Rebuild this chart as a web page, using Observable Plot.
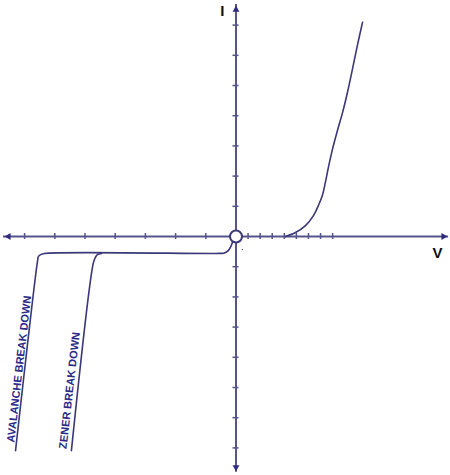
<!DOCTYPE html>
<html>
<head>
<meta charset="utf-8">
<script src="https://cdn.jsdelivr.net/npm/d3@7"></script>
<script src="https://cdn.jsdelivr.net/npm/@observablehq/plot@0.6"></script>
<style>
  html, body { margin: 0; padding: 0; background: #fff; }
  #chart svg { display: block; }
</style>
</head>
<body>
<div id="chart"></div>
<script>
// Axis tick values (data units)
const xTicksNeg = [-7, -6, -5, -4, -3, -2, -1];
const xTicksPos = [0.4, 0.8, 1.2, 1.6, 2.0, 2.4, 2.8, 3.2];
const yTicks = [-7, -6, -5, -4, -3, -2, -1, 1, 2, 3, 4, 5, 6, 7];

// Forward-bias characteristic (V, I)
const forwardV = [1.64, 1.97, 2.30, 2.57, 2.73, 2.86, 2.96, 3.06, 3.20, 3.36, 3.53, 3.69, 3.86, 4.02, 4.19];
const forwardI = [0.00, 0.13, 0.36, 0.70, 1.03, 1.36, 1.79, 2.29, 2.91, 3.51, 4.11, 4.77, 5.56, 6.33, 7.09];

// Reverse characteristic ending in avalanche breakdown
const avalancheV = [-0.12, -0.17, -0.25, -0.38, -0.51, -6.34, -6.47, -6.54, -6.57, -7.30];
const avalancheI = [-0.20, -0.33, -0.46, -0.55, -0.56, -0.56, -0.60, -0.66, -0.80, -7.09];

// Zener breakdown branch
const zenerV = [-4.45, -4.59, -4.65, -4.72, -5.45];
const zenerI = [-0.56, -0.60, -0.68, -0.86, -7.09];

// Text labels
const axisLabels = ["V", "I"];
const breakdownLabels = ["AVALANCHE BREAK DOWN", "ZENER BREAK DOWN"];

const toPts = (xs, ys) => xs.map((x, i) => ({x, y: ys[i]}));
const forward = toPts(forwardV, forwardI);
const avalanche = toPts(avalancheV, avalancheI);
const zener = toPts(zenerV, zenerI);

const axisColor = "#55548c";
const curveColor = "#3a3878";
const headColor = "#2e2b7e";
const textColor = "#2b2a86";

const xExt = [-7.70, 7.04];
const yExt = [-7.81, 7.68];

const chart = Plot.plot({
  width: 450,
  height: 475,
  margin: 0,
  x: {domain: [-7.798, 7.103], axis: null},
  y: {domain: [-7.914, 7.815], axis: null},
  style: {background: "#fff"},
  marks: [
    // axes
    Plot.ruleY([0], {x1: xExt[0], x2: xExt[1], stroke: axisColor, strokeWidth: 2}),
    Plot.ruleX([0], {y1: yExt[0], y2: yExt[1], stroke: axisColor, strokeWidth: 2}),
    // ticks
    Plot.ruleX(xTicksNeg.concat(xTicksPos), {x: d => d, y1: -0.1, y2: 0.1, stroke: axisColor, strokeWidth: 1.5}),
    Plot.ruleY(yTicks, {y: d => d, x1: -0.1, x2: 0.1, stroke: axisColor, strokeWidth: 1.5}),
    // arrowheads
    Plot.dot([
      {x: -7.53, y: 0, r: 270},
      {x: 6.87, y: 0, r: 90},
      {x: 0, y: 7.51, r: 0},
      {x: 0, y: -7.64, r: 180}
    ], {x: "x", y: "y", rotate: "r", symbol: "triangle2", r: 3.3, fill: headColor, stroke: "none"}),
    // curves
    Plot.line(avalanche, {x: "x", y: "y", curve: "catmull-rom", stroke: curveColor, strokeWidth: 1.6}),
    Plot.line(zener, {x: "x", y: "y", curve: "catmull-rom", stroke: curveColor, strokeWidth: 1.6}),
    Plot.line(forward, {x: "x", y: "y", curve: "catmull-rom", stroke: curveColor, strokeWidth: 1.6}),
    // origin circle
    Plot.dot([{x: 0, y: 0}], {x: "x", y: "y", r: 6, fill: "#fff", stroke: curveColor, strokeWidth: 2}),
    // tiny speck
    Plot.dot([{x: 0.21, y: -0.43}], {x: "x", y: "y", r: 0.8, fill: "#666", stroke: "none"}),
    // axis labels
    Plot.text([axisLabels[0]], {x: 6.67, y: -0.55, text: d => d, fontSize: 15, fontWeight: "bold", fontFamily: "Liberation Sans, Arial, sans-serif", fill: "#111"}),
    Plot.text([axisLabels[1]], {x: -0.45, y: 7.47, text: d => d, fontSize: 15, fontWeight: "bold", fontFamily: "Liberation Sans, Arial, sans-serif", fill: "#111"}),
    // breakdown labels
    Plot.text([breakdownLabels[0]], {x: -7.18, y: -4.39, text: d => d, rotate: -83.4, fontSize: 11, fontWeight: "bold", fontFamily: "Liberation Sans, Arial, sans-serif", fill: textColor}),
    Plot.text([breakdownLabels[1]], {x: -5.51, y: -5.10, text: d => d, rotate: -83.4, fontSize: 11, fontWeight: "bold", fontFamily: "Liberation Sans, Arial, sans-serif", fill: textColor})
  ]
});
document.getElementById("chart").append(chart);
</script>
</body>
</html>
